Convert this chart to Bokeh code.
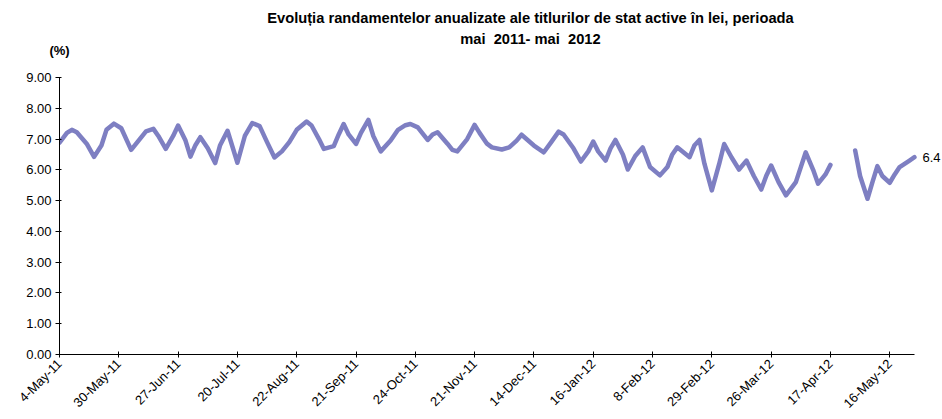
import math
from bokeh.plotting import figure
from bokeh.models import Range1d, Label, NumeralTickFormatter, FixedTicker, LinearAxis
from bokeh.embed import file_html
from bokeh.resources import INLINE

# ---------------- data ----------------
title_line1 = "Evoluția randamentelor anualizate ale titlurilor de stat active în lei, perioada"
title_line2 = "mai\u00a0 2011- mai\u00a0 2012"
unit_label = "(%)"

tick_labels = ["4-May-11", "30-May-11", "27-Jun-11", "20-Jul-11", "22-Aug-11",
               "21-Sep-11", "24-Oct-11", "21-Nov-11", "14-Dec-11", "16-Jan-12",
               "8-Feb-12", "29-Feb-12", "26-Mar-12", "17-Apr-12", "16-May-12"]
obs_per_label = 24          # observations between two labelled dates
last_obs = 346              # index of the last observation

# observation index (category position) and yield (%)
obs_index = [0, 3, 5, 7, 11, 14, 17, 19, 22, 25, 29, 32, 35, 38, 40, 43, 46, 48, 51, 53,
             55, 57, 60, 63, 65, 68, 72, 75, 78, 81, 84, 87, 90, 93, 96, 100, 102, 105, 107, 111,
             113, 115, 117, 120, 122, 125, 127, 130, 134, 137, 140, 142, 145, 149, 151, 153, 157, 159, 161, 165,
             168, 170, 173, 175, 179, 182, 185, 187, 192, 196, 199, 202, 204, 208, 211, 214, 216, 218, 221, 223,
             225, 228, 230, 233, 236, 239, 243, 246, 248, 250, 255, 257, 259, 261, 264, 267, 269, 272, 275, 278,
             281, 284, 286, 288, 291, 294, 298, 302, 305, 307, 310, 312,
             317,
             322, 324, 327, 329, 331, 333, 336, 338, 340, 344, 346]
yield_pct = [6.88, 7.20, 7.30, 7.22, 6.85, 6.42, 6.80, 7.30, 7.50, 7.35, 6.65, 6.95, 7.25, 7.33, 7.10, 6.68, 7.10, 7.44, 6.95, 6.43,
             6.80, 7.06, 6.70, 6.22, 6.80, 7.27, 6.23, 7.10, 7.52, 7.42, 6.90, 6.40, 6.60, 6.90, 7.30, 7.57, 7.44, 7.00, 6.68, 6.77,
             7.15, 7.49, 7.15, 6.84, 7.20, 7.62, 7.10, 6.60, 6.95, 7.30, 7.45, 7.49, 7.38, 6.97, 7.15, 7.22, 6.85, 6.65, 6.60, 7.00,
             7.46, 7.20, 6.85, 6.73, 6.66, 6.73, 6.95, 7.14, 6.79, 6.57, 6.90, 7.24, 7.15, 6.70, 6.27, 6.60, 6.92, 6.60, 6.30, 6.70,
             6.97, 6.50, 6.01, 6.45, 6.73, 6.09, 5.82, 6.09, 6.50, 6.73, 6.41, 6.80, 6.97, 6.20, 5.33, 6.20, 6.84, 6.40, 6.01, 6.30,
             5.80, 5.36, 5.80, 6.14, 5.60, 5.17, 5.60, 6.57, 6.00, 5.55, 5.85, 6.16,
             float("nan"),
             6.63, 5.80, 5.06, 5.60, 6.12, 5.80, 5.58, 5.85, 6.09, 6.30, 6.41]

y_min, y_max, y_step = 0, 9, 1

# ---------------- figure ----------------
FONT = "Liberation Sans"
LINE_COLOR = "#7E7FC2"
TITLE_X = 190.6   # horizontal centre of the title, in observation units

# frame extends right of the x axis so that the end-value label is drawn
p = figure(width=942, height=419, output_backend="svg", toolbar_location=None,
           x_range=Range1d(0, 357.35), y_range=Range1d(y_min, y_max),
           min_border_left=59, min_border_right=0, min_border_top=77, min_border_bottom=64)
p.background_fill_color = "white"
p.border_fill_color = "white"
p.outline_line_color = None
p.xgrid.visible = False
p.ygrid.visible = False

p.line(obs_index, yield_pct, line_color=LINE_COLOR, line_width=4.5,
       line_join="round", line_cap="round")

# axes
xa = p.below[0]
xa.bounds = (0, last_obs)
xa.ticker = FixedTicker(ticks=[i * obs_per_label for i in range(len(tick_labels))])
xa.major_label_overrides = {i * obs_per_label: lab for i, lab in enumerate(tick_labels)}
xa.major_label_orientation = math.pi / 4
xa.minor_tick_line_color = None
xa.major_tick_in = 3
xa.major_tick_out = 3
xa.major_label_standoff = 4
xa.major_label_text_font = FONT
xa.major_label_text_font_size = "13px"
xa.major_label_text_color = "black"
xa.axis_line_color = "black"
xa.major_tick_line_color = "black"

ya = p.left[0]
ya.ticker = FixedTicker(ticks=list(range(y_min, y_max + 1, y_step)))
ya.formatter = NumeralTickFormatter(format="0.00")
ya.minor_tick_line_color = None
ya.major_tick_in = 2
ya.major_tick_out = 4
ya.major_label_standoff = 4
ya.major_label_text_font = FONT
ya.major_label_text_font_size = "13px"
ya.major_label_text_color = "black"
ya.axis_line_color = "black"
ya.major_tick_line_color = "black"

# title lines and unit, drawn as tick labels of line-less axes above the frame
def text_axis(tick, text, size, standoff):
    return LinearAxis(ticker=FixedTicker(ticks=[tick]), major_label_overrides={tick: text},
                      axis_line_color=None, major_tick_line_color=None, minor_tick_line_color=None,
                      major_tick_in=0, major_tick_out=0, major_label_standoff=standoff,
                      major_label_orientation="horizontal",
                      major_label_text_font=FONT, major_label_text_font_size=size,
                      major_label_text_font_style="bold", major_label_text_color="black")

p.add_layout(text_axis(0, unit_label, "13px", 20), "above")
p.add_layout(text_axis(TITLE_X, title_line2, "14.7px", -7), "above")
p.add_layout(text_axis(TITLE_X, title_line1, "14.7px", 2), "above")

# end value label
p.add_layout(Label(x=obs_index[-1], y=yield_pct[-1], text=f"{yield_pct[-1]:.1f}",
                   x_offset=8, text_baseline="middle", text_align="left",
                   text_font=FONT, text_font_size="13px", text_color="black"))

open("out.html", "w").write(file_html(p, INLINE))
